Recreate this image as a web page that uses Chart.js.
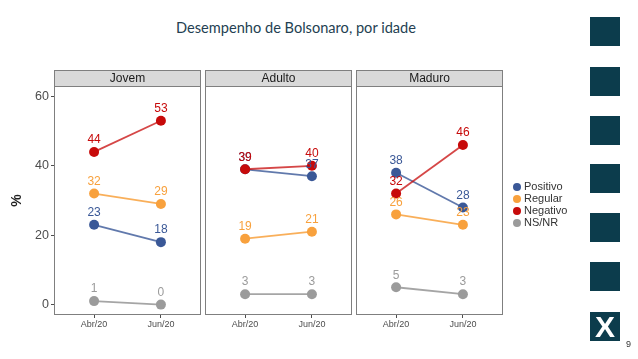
<!DOCTYPE html>
<html>
<head>
<meta charset="utf-8">
<script src="https://cdn.jsdelivr.net/npm/chart.js@4/dist/chart.umd.min.js"></script>
<style>
  body { margin: 0; background: #fff; }
  #page { position: relative; width: 638px; height: 359px; overflow: hidden; font-family: 'Liberation Sans', Arial, sans-serif; }
  canvas { position: absolute; left: 0; top: 0; }
  #title { position: absolute; left: 0; width: 592px; top: 19px; text-align: center; font-family: Lato, sans-serif; font-size: 14.6px; color: #243f52; }
  #legend { position: absolute; left: 513px; top: 180px; font-size: 11px; color: #333; }
  #legend div { height: 12px; line-height: 12px; white-space: nowrap; }
  #legend span { display: inline-block; width: 8px; height: 8px; border-radius: 50%; margin-right: 3px; vertical-align: -1px; }
  .sq { position: absolute; left: 590px; width: 30px; height: 29px; background: #0c3c4c; }
  #logo { color: #fff; font: bold 30px 'Liberation Sans', Arial, sans-serif; text-align: center; line-height: 29px; }
  #pagenum { position: absolute; left: 626px; top: 339px; font-size: 9px; color: #333; }
</style>
</head>
<body>
<div id="page">
  <div id="title">Desempenho de Bolsonaro, por idade</div>
  <canvas id="c0" width="638" height="359"></canvas>
  <canvas id="c1" width="638" height="359"></canvas>
  <canvas id="c2" width="638" height="359"></canvas>
  <div id="legend"></div>
  <div id="pagenum">9</div>
</div>
<script>
// data
const categories = ['Abr/20', 'Jun/20'];
const panels = ['Jovem', 'Adulto', 'Maduro'];
const seriesNames = ['Positivo', 'Regular', 'Negativo', 'NS/NR'];
// one pair [Abr, Jun] per panel
const positivo = [[23, 18], [39, 37], [38, 28]];
const regular = [[32, 29], [19, 21], [26, 23]];
const negativo = [[44, 53], [39, 40], [32, 46]];
const nsnr = [[1, 0], [3, 3], [5, 3]];
const yTicks = [0, 20, 40, 60];

const seriesValues = [positivo, regular, negativo, nsnr];
const pointColors = ['#3a5897', '#f8a13d', '#c70a0a', '#9b9b9b'];
const lineColors = ['rgba(58,88,151,0.8)', 'rgba(248,161,61,0.85)', 'rgba(199,10,10,0.75)', 'rgba(155,155,155,0.9)'];

Chart.defaults.font.family = "'Liberation Sans', Arial, sans-serif";

// panel geometry
const panelLeft = [54, 205, 356];
const panelWidth = 147;
const panelTop = 86;
const panelBottom = 315;
const stripH = 16;
const xAxisH = 20;

const facetPlugin = {
  id: 'facet',
  beforeDraw(chart) {
    const a = chart.chartArea, ctx = chart.ctx;
    ctx.save();
    ctx.fillStyle = '#d9d9d9';
    ctx.fillRect(a.left, a.top - stripH, a.right - a.left, stripH);
    ctx.strokeStyle = '#7f7f7f';
    ctx.lineWidth = 1;
    ctx.strokeRect(a.left + 0.5, a.top - stripH + 0.5, a.right - a.left - 1, stripH);
    ctx.fillStyle = '#1a1a1a';
    ctx.font = "12px 'Liberation Sans', Arial, sans-serif";
    ctx.textAlign = 'center';
    ctx.textBaseline = 'middle';
    ctx.fillText(chart.options.plugins.facet.label, (a.left + a.right) / 2, a.top - stripH / 2 + 1);
    ctx.restore();
  },
  afterDatasetsDraw(chart) {
    const ctx = chart.ctx;
    ctx.save();
    ctx.font = "12px 'Liberation Sans', Arial, sans-serif";
    ctx.textAlign = 'center';
    ctx.textBaseline = 'middle';
    [0, 1, 2, 3].forEach(d => {
      const meta = chart.getDatasetMeta(d);
      ctx.fillStyle = pointColors[d];
      meta.data.forEach((pt, j) => {
        ctx.fillText(chart.data.datasets[d].data[j].y, pt.x, pt.y - 12);
      });
    });
    ctx.restore();
  },
  afterDraw(chart) {
    const a = chart.chartArea, ctx = chart.ctx;
    ctx.save();
    ctx.strokeStyle = '#7f7f7f';
    ctx.lineWidth = 1;
    ctx.strokeRect(a.left + 0.5, a.top + 0.5, a.right - a.left - 1, a.bottom - a.top - 1);
    ctx.restore();
  }
};

panels.forEach((name, p) => {
  const datasets = seriesNames.map((s, d) => ({
    label: s,
    data: seriesValues[d][p].map((v, i) => ({ x: i, y: v })),
    borderColor: lineColors[d],
    backgroundColor: pointColors[d],
    pointBackgroundColor: pointColors[d],
    pointBorderWidth: 0,
    pointRadius: 5,
    borderWidth: 1.8,
    order: 3 - d
  }));

  new Chart(document.getElementById('c' + p), {
    type: 'line',
    data: { datasets },
    plugins: [facetPlugin],
    options: {
      responsive: false,
      animation: false,
      events: [],
      layout: {
        padding: {
          left: p === 0 ? 0 : panelLeft[p],
          right: 638 - panelLeft[p] - panelWidth,
          top: panelTop,
          bottom: 359 - panelBottom - xAxisH
        }
      },
      plugins: {
        legend: { display: false },
        tooltip: { enabled: false },
        facet: { label: name }
      },
      elements: { line: { tension: 0 } },
      scales: {
        x: {
          type: 'linear',
          min: -0.6,
          max: 1.6,
          afterBuildTicks: axis => { axis.ticks = categories.map((c, i) => ({ value: i })); },
          afterFit: axis => { axis.height = xAxisH; },
          ticks: {
            callback: v => categories[v],
            font: { size: 9 },
            color: '#4d4d4d',
            padding: 1,
            maxRotation: 0
          },
          grid: { display: true, drawOnChartArea: false, tickLength: 3, color: '#4d4d4d' },
          border: { display: false }
        },
        y: {
          display: p === 0,
          min: -3,
          max: 63,
          afterBuildTicks: axis => { axis.ticks = yTicks.map(v => ({ value: v })); },
          afterFit: axis => { axis.width = p === 0 ? panelLeft[0] : 0; },
          title: { display: true, text: '%', font: { size: 14, weight: 'bold' }, color: '#222', padding: { top: 9, bottom: 8 } },
          ticks: { font: { size: 12.5 }, color: '#4d4d4d', padding: 2 },
          grid: { display: true, drawOnChartArea: false, tickLength: 3, color: '#4d4d4d' },
          border: { display: false }
        }
      }
    }
  });
});

// legend
const legend = document.getElementById('legend');
seriesNames.forEach((s, d) => {
  const row = document.createElement('div');
  const dot = document.createElement('span');
  dot.style.background = pointColors[d];
  row.appendChild(dot);
  row.appendChild(document.createTextNode(s));
  legend.appendChild(row);
});

// decorative squares on the right
const page = document.getElementById('page');
[17, 67, 116, 164, 213, 262, 312].forEach((t, i) => {
  const sq = document.createElement('div');
  sq.className = 'sq';
  sq.style.top = t + 'px';
  if (i === 6) { sq.id = 'logo'; sq.textContent = 'X'; }
  page.appendChild(sq);
});
</script>
</body>
</html>
